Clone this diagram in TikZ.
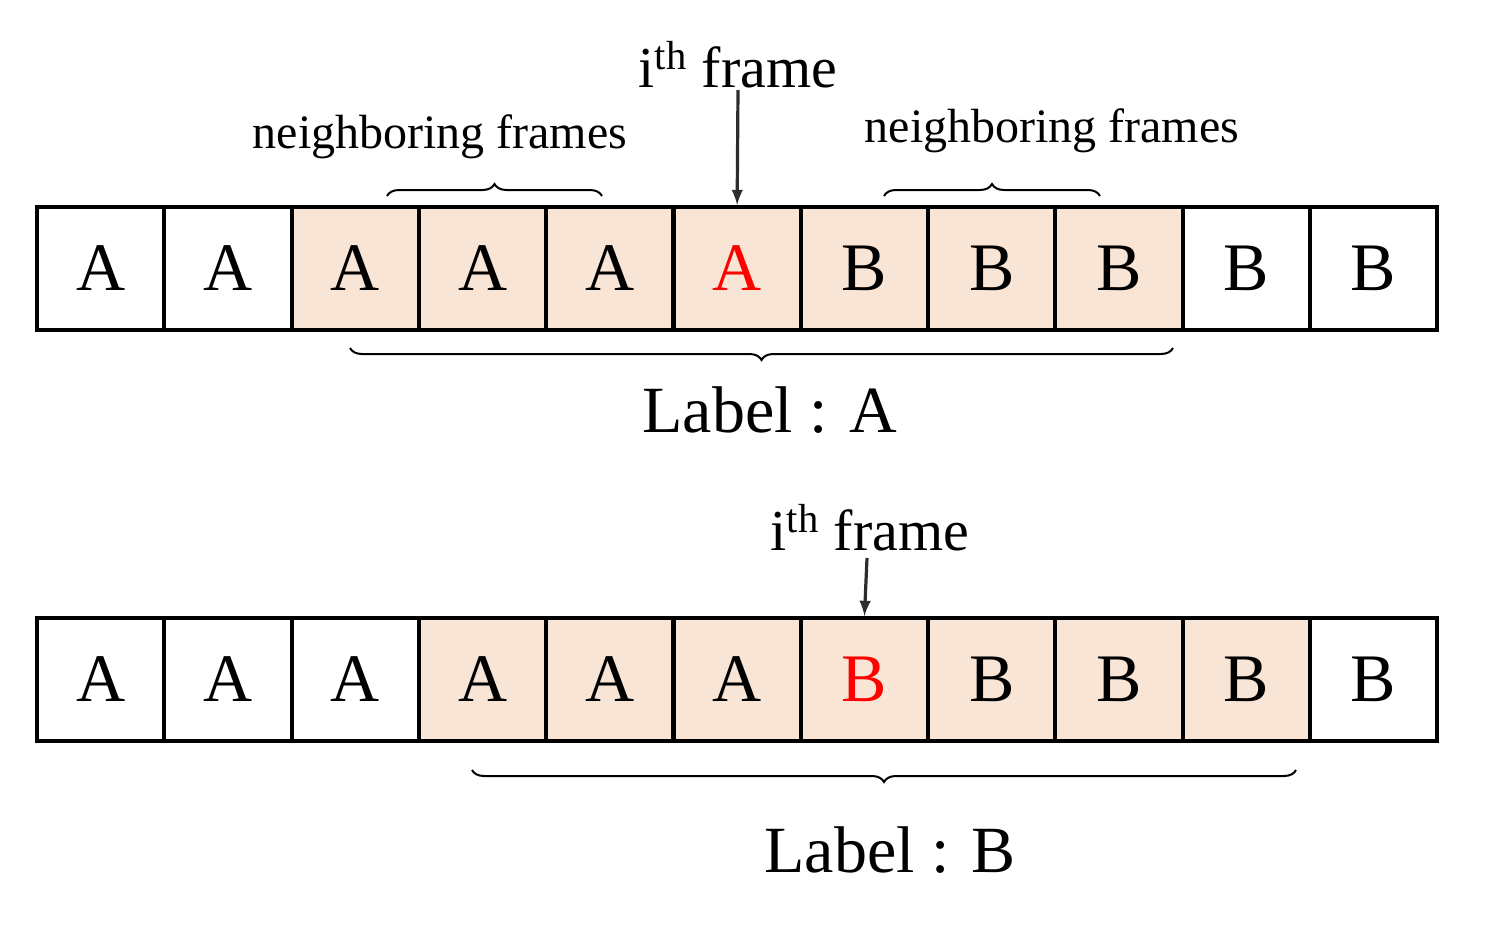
\documentclass[tikz,border=0pt]{standalone}
\usepackage{fontspec}
\setmainfont{Liberation Serif}
\usetikzlibrary{positioning,decorations.pathreplacing}
\definecolor{peach}{RGB}{249,229,214}
\definecolor{arrowgray}{RGB}{45,45,45}
\begin{document}
\begin{tikzpicture}[x=0.5pt,y=-0.5pt,
    type-cell/.style={rectangle, draw=black, line width=2pt, minimum width=63.6pt, minimum height=61.5pt, inner sep=0pt, font=\fontsize{34}{34}\selectfont},
    type-near/.style={type-cell, fill=peach},
    type-brace/.style={decorate, decoration={brace, amplitude=6pt}, line width=1pt},
    type-arrow/.style={-latex, line width=1.6pt, draw=arrowgray},
    type-big/.style={font=\fontsize{29}{29}\selectfont},
    type-small/.style={font=\fontsize{24}{24}\selectfont},
    type-label/.style={font=\fontsize{33}{33}\selectfont}
  ]
  \useasboundingbox (0,0) rectangle (1511,933);
  % top row
  \foreach \l [count=\i] in {A,A,A,A,A,A,B,B,B,B,B} {
    \ifnum\i>2 \ifnum\i<10 \def\st{type-near}\else\def\st{type-cell}\fi\else\def\st{type-cell}\fi
    \node[\st] (t\i) at ({37+127.3*(\i-0.5)},268.5) {\ifnum\i=6 \textcolor{red}{\l}\else\l\fi};
  }
  % bottom row
  \foreach \l [count=\i] in {A,A,A,A,A,A,B,B,B,B,B} {
    \ifnum\i>3 \ifnum\i<11 \def\st{type-near}\else\def\st{type-cell}\fi\else\def\st{type-cell}\fi
    \node[\st] (b\i) at ({37+127.3*(\i-0.5)},679.5) {\ifnum\i=7 \textcolor{red}{\l}\else\l\fi};
  }
  % titles
  \node[type-big] (ttop) at (738,65) {i\textsuperscript{th} frame};
  \node[type-big] (tbot) at (870,528) {i\textsuperscript{th} frame};
  \draw[type-arrow] (738,90) -- (t6.north);
  \draw[type-arrow] (867,558) -- (b7.north);
  % neighbors
  \draw[type-brace] (387,196) -- (602,196);
  \draw[type-brace] (884,196) -- (1100,196);
  \node[type-small] (nl) at (440,137) {neighboring frames};
  \node[type-small] (nr) at (1052,131) {neighboring frames};
  % labels
  \draw[type-brace] (1173,348) -- (350,348);
  \draw[type-brace] (1296,770) -- (472,770);
  \node[type-label] (la) at (770,410) {Label : A};
  \node[type-label] (lb) at (890,850) {Label : B};
\end{tikzpicture}
\end{document}
